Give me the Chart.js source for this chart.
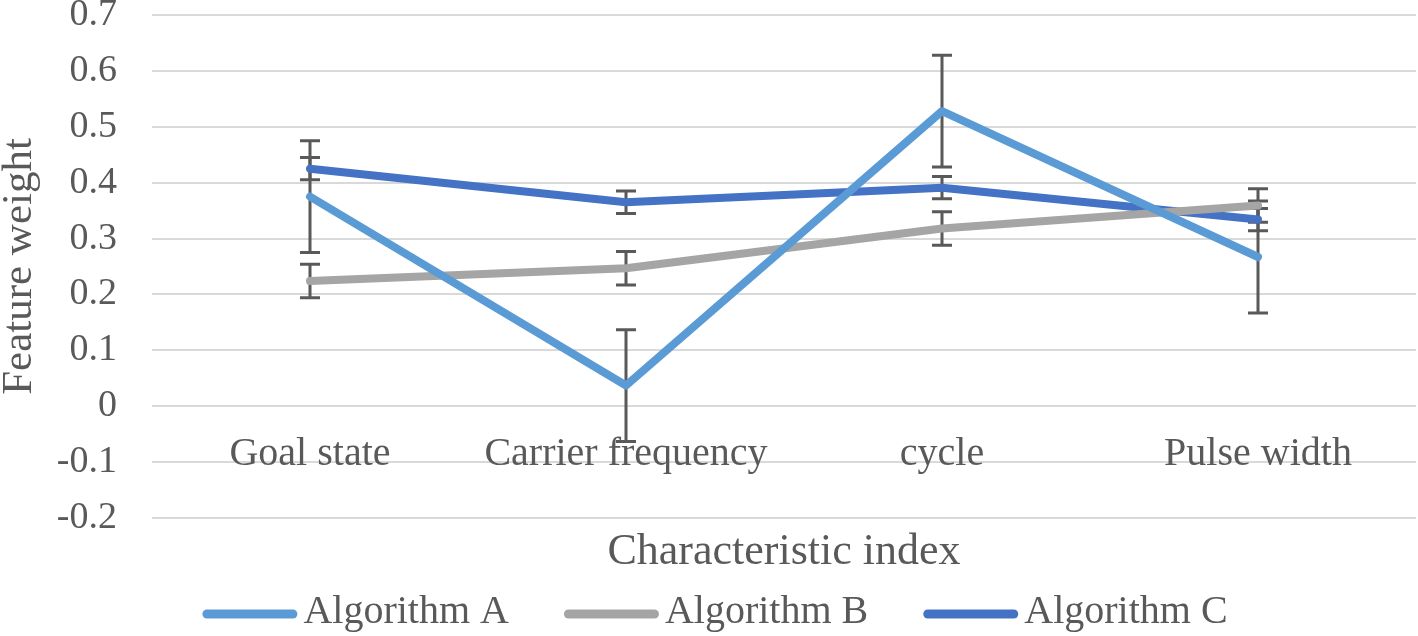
<!DOCTYPE html>
<html>
<head>
<meta charset="utf-8">
<script src="https://cdn.jsdelivr.net/npm/chart.js@4"></script>
<style>
    html, body { margin: 0; padding: 0; background: #fff; }
    #wrap { width: 1418px; height: 636px; position: relative; }
</style>
</head>
<body>
<div id="wrap"><canvas id="chart"></canvas></div>
<script>
// data
const categories = ["Goal state", "Carrier frequency", "cycle", "Pulse width"];
const seriesNames = ["Algorithm A", "Algorithm B", "Algorithm C"];
const algorithmA = [0.375, 0.037, 0.528, 0.267];
const algorithmB = [0.224, 0.247, 0.318, 0.359];
const algorithmC = [0.425, 0.365, 0.391, 0.334];
const errorA = [0.1, 0.1, 0.1, 0.1];
const errorB = [0.03, 0.03, 0.03, 0.03];
const errorC = [0.02, 0.02, 0.02, 0.02];
const yTicks = [-0.2, -0.1, 0, 0.1, 0.2, 0.3, 0.4, 0.5, 0.6, 0.7];

const serif = '"Liberation Serif", "Times New Roman", serif';
const textColor = '#595959';
const colors = ['#5B9BD5', '#A5A5A5', '#4472C4'];

// error bars, drawn under the lines
const errorBars = {
    id: 'errorBars',
    beforeDatasetsDraw(chart) {
        const ctx = chart.ctx;
        const y = chart.scales.y;
        ctx.save();
        ctx.strokeStyle = '#595959';
        ctx.lineWidth = 3;
        chart.data.datasets.forEach((ds, i) => {
            const meta = chart.getDatasetMeta(i);
            meta.data.forEach((pt, j) => {
                const v = ds.data[j];
                const e = ds.errors[j];
                const top = y.getPixelForValue(v + e);
                const bottom = y.getPixelForValue(v - e);
                ctx.beginPath();
                ctx.moveTo(pt.x, top);
                ctx.lineTo(pt.x, bottom);
                ctx.moveTo(pt.x - 10, top);
                ctx.lineTo(pt.x + 10, top);
                ctx.moveTo(pt.x - 10, bottom);
                ctx.lineTo(pt.x + 10, bottom);
                ctx.stroke();
            });
        });
        ctx.restore();
    }
};

// legend with long line samples close to the text
const lineLegend = {
    id: 'lineLegend',
    afterDraw(chart) {
        const ctx = chart.ctx;
        ctx.save();
        ctx.font = '40px ' + serif;
        const sample = 95, gap = 6, spacing = 55;
        const widths = chart.data.datasets.map(ds => ctx.measureText(ds.label).width);
        let total = 0;
        widths.forEach(w => total += sample + gap + w);
        total += spacing * (widths.length - 1);
        let x = chart.width / 2 + 6 - total / 2;
        const yText = 612;
        chart.data.datasets.forEach((ds, i) => {
            ctx.strokeStyle = ds.borderColor;
            ctx.lineWidth = 9;
            ctx.lineCap = 'round';
            ctx.beginPath();
            ctx.moveTo(x + 4.5, yText + 2);
            ctx.lineTo(x + sample - 4.5, yText + 2);
            ctx.stroke();
            ctx.fillStyle = textColor;
            ctx.textBaseline = 'middle';
            ctx.textAlign = 'left';
            ctx.fillText(ds.label, x + sample + gap, yText);
            x += sample + gap + widths[i] + spacing;
        });
        ctx.restore();
    }
};

const makeLine = (label, data, errors, color) => ({
    label: label,
    data: data,
    errors: errors,
    borderColor: color,
    backgroundColor: color,
    borderWidth: 8,
    borderCapStyle: 'round',
    borderJoinStyle: 'round',
    pointRadius: 0,
    pointHoverRadius: 0,
    tension: 0,
    fill: false
});

const ctx = document.getElementById('chart').getContext('2d');
const chart = new Chart(ctx, {
    type: 'line',
    data: {
        labels: categories,
        datasets: [
            makeLine(seriesNames[0], algorithmA, errorA, colors[0]),
            makeLine(seriesNames[1], algorithmB, errorB, colors[1]),
            makeLine(seriesNames[2], algorithmC, errorC, colors[2])
        ]
    },
    options: {
        responsive: true,
        maintainAspectRatio: false,
        animation: false,
        layout: { padding: { left: 0, right: 2, top: 15, bottom: 56 } },
        plugins: {
            legend: { display: false },
            tooltip: { enabled: false }
        },
        scales: {
            x: {
                offset: true,
                grid: { display: false, drawTicks: false },
                border: { display: false },
                ticks: {
                    // labels sit just under the zero line, as in the original
                    mirror: true,
                    padding: 40,
                    z: 1,
                    color: textColor,
                    maxRotation: 0,
                    autoSkip: false,
                    font: { family: serif, size: 40 }
                },
                title: {
                    display: true,
                    text: 'Characteristic index',
                    color: textColor,
                    padding: { top: 0, bottom: 6 },
                    font: { family: serif, size: 44, lineHeight: 1 }
                },
                afterFit(scale) {
                    scale.height = 62;
                    scale.paddingLeft = 0;
                    scale.paddingRight = 0;
                }
            },
            y: {
                min: yTicks[0],
                max: yTicks[yTicks.length - 1],
                afterBuildTicks(scale) {
                    scale.ticks = yTicks.map(v => ({ value: v }));
                },
                grid: { color: '#D9D9D9', lineWidth: 2, drawTicks: false },
                border: { display: false },
                ticks: {
                    padding: 35,
                    color: textColor,
                    font: { family: serif, size: 38 },
                    callback: (v) => String(Number(v.toFixed(1)))
                },
                title: {
                    display: true,
                    text: 'Feature weight',
                    color: textColor,
                    padding: { top: -2, bottom: 0 },
                    font: { family: serif, size: 43, lineHeight: 1 }
                },
                afterFit(scale) {
                    scale.width = 152;
                    scale.paddingTop = 0;
                    scale.paddingBottom = 0;
                }
            }
        }
    },
    plugins: [errorBars, lineLegend]
});
</script>
</body>
</html>
